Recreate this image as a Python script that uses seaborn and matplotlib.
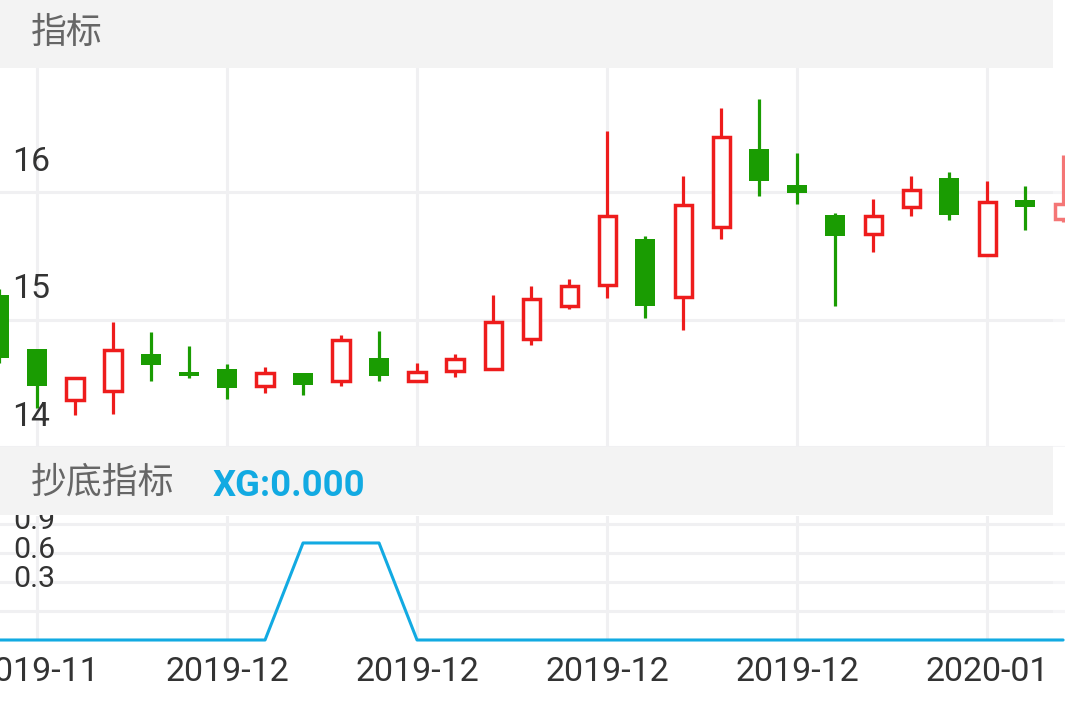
import numpy as np
import pandas as pd
import seaborn as sns
import matplotlib.pyplot as plt
import matplotlib.transforms as mtransforms
from matplotlib.patches import Rectangle

# K线数据 (open / high / low / close)
opens = [15.19, 14.77, 14.37, 14.44, 14.73, 14.59, 14.61, 14.48, 14.58, 14.52,
         14.70, 14.52, 14.60, 14.61, 14.85, 15.11, 15.27, 15.63, 15.18, 15.73,
         16.34, 16.06, 15.82, 15.67, 15.88, 16.11, 15.51, 15.94, 15.79]
highs = [15.24, 14.77, 14.55, 14.98, 14.90, 14.79, 14.65, 14.63, 14.58, 14.88,
         14.91, 14.66, 14.73, 15.19, 15.26, 15.32, 16.48, 15.66, 16.13, 16.66,
         16.73, 16.31, 15.84, 15.95, 16.13, 16.16, 16.09, 16.05, 16.29]
lows = [14.66, 14.31, 14.25, 14.26, 14.52, 14.54, 14.38, 14.42, 14.41, 14.48,
        14.52, 14.52, 14.55, 14.61, 14.80, 15.08, 15.17, 15.01, 14.92, 15.63,
        15.97, 15.91, 15.11, 15.53, 15.81, 15.78, 15.51, 15.70, 15.77]
closes = [14.70, 14.48, 14.54, 14.76, 14.64, 14.56, 14.46, 14.58, 14.49, 14.84,
          14.56, 14.59, 14.69, 14.98, 15.16, 15.26, 15.81, 15.11, 15.90, 16.43,
          16.09, 15.99, 15.66, 15.81, 16.02, 15.82, 15.92, 15.88, 15.91]

# 抄底指标 XG
xg = [0, 0, 0, 0, 0, 0, 0, 0, 1, 1, 1, 0, 0, 0, 0, 0, 0, 0, 0, 0,
      0, 0, 0, 0, 0, 0, 0, 0, 0]

tick_pos = [1, 6, 11, 16, 21, 26]
tick_labels = ["2019-11", "2019-12", "2019-12", "2019-12", "2019-12", "2020-01"]
price_ticks = [14, 15, 16]
xg_ticks = [0.3, 0.6, 0.9, 1.2]

df = pd.DataFrame({"open": opens, "high": highs, "low": lows,
                   "close": closes, "xg": xg})
df["idx"] = np.arange(len(df))
df["up"] = df["close"] >= df["open"]

RED = "#ee1c1c"
GREEN = "#1a9c02"
BLUE = "#12aae2"
GRID = "#f0f0f2"

sns.set_theme(style="white")
plt.rcParams["font.family"] = ["Roboto", "Noto Sans CJK SC", "DejaVu Sans"]

W, H = 1065, 708
fig = plt.figure(figsize=(W / 100, H / 100), dpi=100)


def box(top, bottom):
    return [0, 1 - bottom / H, 1, (bottom - top) / H]


ax = fig.add_axes(box(68, 447))
ax2 = fig.add_axes(box(516, 640))

for a in (ax, ax2):
    a.set_xlim(0.026, 28.05)
    for s in a.spines.values():
        s.set_visible(False)
    a.set_xticks(tick_pos)
    a.grid(True, axis="both", color=GRID, lw=2.2, zorder=0)
    a.set_axisbelow(True)
    a.tick_params(length=0)

# 主图: K线
ax.set_ylim(14.035, 16.975)
ax.set_yticks(price_ticks)
ax.set_yticklabels([])
ax.set_xticklabels([])

up = df[df["up"]]
down = df[~df["up"]]
ax.vlines(up["idx"], up["low"], up["high"], color=RED, lw=2.3, zorder=2)
ax.vlines(down["idx"], down["low"], down["high"], color=GREEN, lw=2.3, zorder=2)
ax.bar(up["idx"], up["close"] - up["open"], bottom=up["open"], width=0.45,
       facecolor="white", edgecolor=RED, lw=2.5, zorder=3)
ax.bar(down["idx"], down["open"] - down["close"], bottom=down["close"], width=0.54,
       color=GREEN, lw=0, zorder=3)

ytrans = mtransforms.offset_copy(ax.get_yaxis_transform(), fig=fig, x=12, y=21.5, units="dots")
for v in price_ticks:
    ax.text(0, v, f"{v}", transform=ytrans, ha="left", va="baseline",
            fontsize=24.3, color="#333333", zorder=4)

# 副图: 抄底指标
ax2.set_ylim(0, 1.278)
ax2.set_yticks(xg_ticks)
ax2.set_yticklabels([])
sns.lineplot(data=df, x="idx", y="xg", ax=ax2, color=BLUE, lw=2.2, clip_on=False, zorder=3)
ax2.set_xlabel("")
ax2.set_ylabel("")
ax2.set_xticks(tick_pos, tick_labels)
ax2.tick_params(axis="x", pad=11.5, labelsize=24.5, labelcolor="#333333")

ytrans2 = mtransforms.offset_copy(ax2.get_yaxis_transform(), fig=fig, x=13, y=24, units="dots")
for v in xg_ticks[:3]:
    ax2.text(0, v, f"{v}", transform=ytrans2, ha="left", va="baseline",
             fontsize=21.8, color="#333333", zorder=4)

# 标题栏
fig.add_artist(Rectangle((0, 1 - 68 / H), 1053 / W, 68 / H, transform=fig.transFigure,
                         facecolor="#f3f3f3", edgecolor="none", zorder=5))
fig.add_artist(Rectangle((0, 1 - 515 / H), 1053 / W, 68 / H, transform=fig.transFigure,
                         facecolor="#f3f3f3", edgecolor="none", zorder=5))
fig.text(31 / W, 1 - 33 / H, "指标", ha="left", va="center", fontsize=25.8,
         color="#666666", family=["Noto Sans CJK SC"], zorder=6)
fig.text(31 / W, 1 - 482 / H, "抄底指标", ha="left", va="center", fontsize=25.8,
         color="#666666", family=["Noto Sans CJK SC"], zorder=6)
fig.text(213 / W, 1 - 495.5 / H, "XG:0.000", ha="left", va="baseline", fontsize=26.2,
         color=BLUE, fontweight="bold", family=["Roboto"], zorder=6)

# 右侧渐隐
fig.add_artist(Rectangle((1053 / W, 1 - 636 / H), 12 / W, 636 / H, transform=fig.transFigure,
                         facecolor="white", alpha=0.4, edgecolor="none", zorder=10))

fig.savefig("out.png", dpi=100, facecolor="white")
